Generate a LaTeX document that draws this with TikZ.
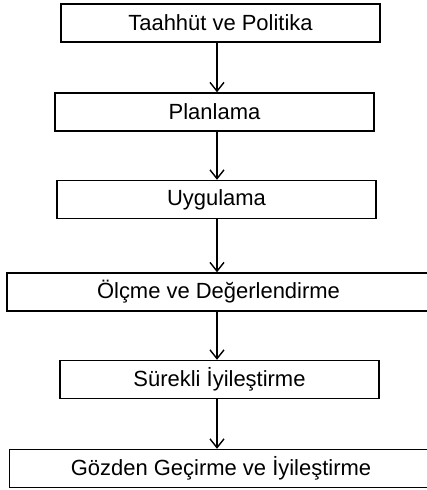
\documentclass[tikz,border=0pt]{standalone}
\usepackage{fontspec}
\setmainfont{Liberation Sans}
\usetikzlibrary{arrows.meta}
\tikzset{
  adim/.style={draw, line width=0.8pt, minimum width=6.38cm, minimum height=0.76cm,
    inner sep=0pt, font=\fontsize{12.5}{15}\selectfont},
  genis/.style={adim, minimum width=8.46cm},
  ok/.style={line width=0.8pt, -{Straight Barb[length=5pt,width=8pt]}}
}

\begin{document}
\begin{tikzpicture}[x=0.02cm, y=-0.02cm]
  \useasboundingbox (0,0) rectangle (426,490);
  \coordinate (eksen) at (217,0);
  \node[adim]  (taahhut)   at (220.5,23)  {Taahhüt ve Politika};
  \node[adim]  (planlama)  at (214.5,112) {Planlama};
  \node[adim]  (uygulama)  at (216.5,199.5) {Uygulama};
  \node[genis] (olcme)     at (218.5,292) {Ölçme ve Değerlendirme};
  \node[adim]  (surekli)   at (219.5,379.5) {Sürekli İyileştirme};
  \node[genis] (gozden)    at (221,468.5) {Gözden Geçirme ve İyileştirme};
  % oklar
  \draw[ok] (taahhut.south -| eksen)  -- (planlama.north -| eksen);
  \draw[ok] (planlama.south -| eksen) -- (uygulama.north -| eksen);
  \draw[ok] (uygulama.south -| eksen) -- (olcme.north -| eksen);
  \draw[ok] (olcme.south -| eksen)    -- (surekli.north -| eksen);
  \draw[ok] (surekli.south -| eksen)  -- (gozden.north -| eksen);
\end{tikzpicture}
\end{document}
